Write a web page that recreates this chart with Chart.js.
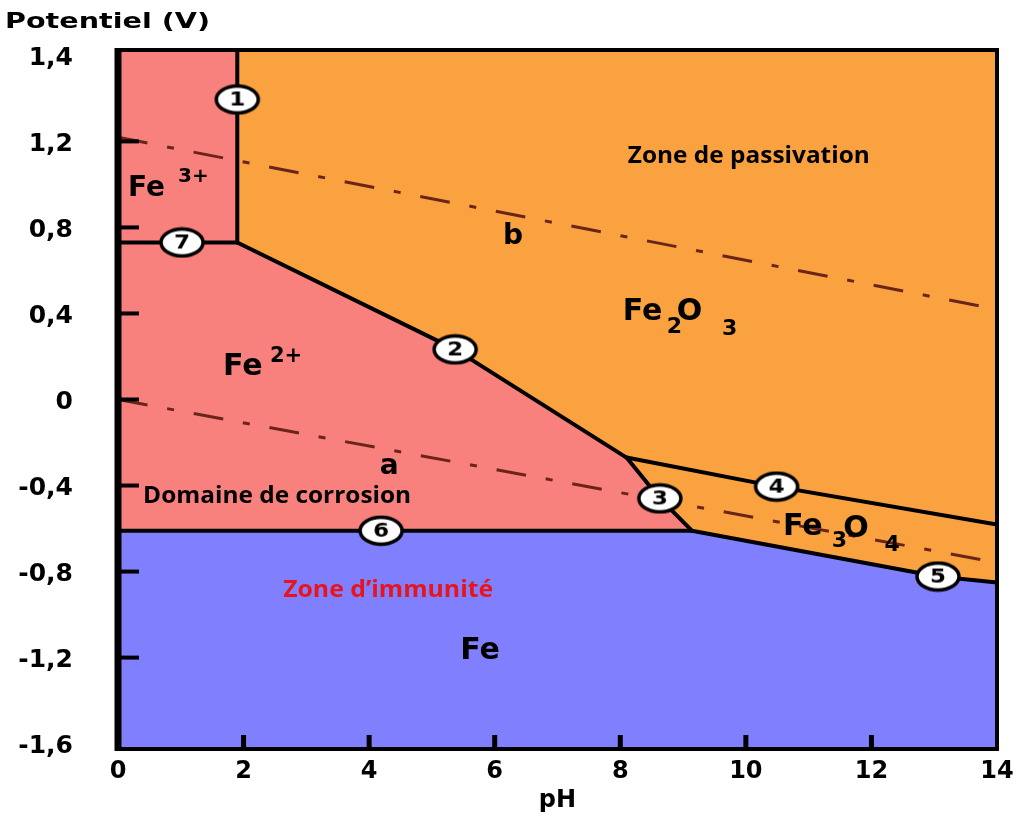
<!DOCTYPE html>
<html>
<head>
<meta charset="utf-8">
<script src="https://cdn.jsdelivr.net/npm/chart.js@4.4.1/dist/chart.umd.min.js"></script>
<style>
    html, body { margin: 0; padding: 0; background: #fff; }
    #wrap { width: 1018px; height: 819px; }
</style>
</head>
<body>
<div id="wrap"><canvas id="chart"></canvas></div>
<script>
// ticks
const phTicks = [0, 2, 4, 6, 8, 10, 12, 14];
const potentialTicks = [-1.6, -1.2, -0.8, -0.4, 0, 0.4, 0.8, 1.2, 1.6];
const potentialTickLabels = ["-1,6", "-1,2", "-0,8", "-0,4", "0", "0,4", "0,8", "1,2", "1,4"];

// domains: upper edge of Fe3+/Fe2+ and of Fe (pH, V)
const ionsTopPh = [0, 1.9, 1.9, 5.37, 8.1, 8.63, 9.14];
const ionsTopE = [1.625, 1.625, 0.73, 0.233, -0.27, -0.46, -0.61];
const metalTopPh = [0, 9.14, 13.06, 14];
const metalTopE = [-0.61, -0.61, -0.823, -0.851];

// numbered boundaries
const line1 = [[1.9, 0.73], [1.9, 1.625]];
const line2 = [[1.9, 0.73], [5.37, 0.233], [8.1, -0.27]];
const line3 = [[8.1, -0.27], [8.63, -0.46], [9.14, -0.61]];
const line4 = [[8.1, -0.27], [10.49, -0.405], [14, -0.581]];
const line5 = [[9.14, -0.61], [13.06, -0.823], [14, -0.851]];
const line6 = [[0, -0.61], [9.14, -0.61]];
const line7 = [[0, 0.73], [1.9, 0.73]];

// water lines a and b
const lineA = [[0, 0], [14, -0.758]];
const lineB = [[0, 1.219], [14, 0.419]];

// numbered markers
const markerPh = [1.9, 5.37, 8.63, 10.49, 13.06, 4.19, 1.02];
const markerE = [1.395, 0.233, -0.46, -0.405, -0.823, -0.61, 0.73];
const markerLabels = ["1", "2", "3", "4", "5", "6", "7"];

const ORANGE = "#f9a23f";
const PINK = "#f8807d";
const BLUE = "#8080fe";
const DASH = "#6a2418";
const DEJAVU = "'DejaVu Sans', sans-serif";
const SANS = "'Open Sans', Lato, sans-serif";

// text inside the diagram
const diagramLabels = [
    { text: "Fe", ph: 0.16, e: 0.981, size: 28 },
    { text: "3+", ph: 0.955, e: 1.037, size: 20 },
    { text: "Fe", ph: 1.672, e: 0.149, size: 30 },
    { text: "2+", ph: 2.42, e: 0.2, size: 21 },
    { text: "b", ph: 6.13, e: 0.758, size: 28 },
    { text: "a", ph: 4.17, e: -0.312, size: 28 },
    { text: "Fe", ph: 8.04, e: 0.405, size: 30 },
    { text: "2", ph: 8.74, e: 0.335, size: 22 },
    { text: "O", ph: 8.9, e: 0.405, size: 30 },
    { text: "3", ph: 9.62, e: 0.326, size: 22 },
    { text: "Fe", ph: 10.59, e: -0.595, size: 30 },
    { text: "3", ph: 11.37, e: -0.66, size: 22 },
    { text: "O", ph: 11.55, e: -0.605, size: 30 },
    { text: "4", ph: 12.21, e: -0.679, size: 22 },
    { text: "Fe", ph: 5.45, e: -1.172, size: 30 },
    { text: "Zone de passivation", ph: 8.12, e: 1.13, size: 24, family: SANS, width: 242 },
    { text: "Domaine de corrosion", ph: 0.4, e: -0.451, size: 24, family: SANS, width: 268 },
    { text: "Zone d’immunité", ph: 2.63, e: -0.888, size: 24, family: SANS, width: 210, color: "#e8141c" }
];

const toPoints = (ph, e) => ph.map((x, i) => ({ x, y: e[i] }));
const pairs = arr => arr.map(([x, y]) => ({ x, y }));

function makeMarker(num) {
    const c = document.createElement("canvas");
    c.width = 48; c.height = 32;
    const ctx = c.getContext("2d");
    ctx.beginPath();
    ctx.ellipse(24, 16, 21, 13.5, 0, 0, Math.PI * 2);
    ctx.fillStyle = "#fff";
    ctx.fill();
    ctx.lineWidth = 3.5;
    ctx.strokeStyle = "#000";
    ctx.stroke();
    ctx.fillStyle = "#000";
    ctx.font = "bold 20px " + DEJAVU;
    ctx.textAlign = "center";
    ctx.textBaseline = "middle";
    ctx.translate(24, 17);
    ctx.scale(1.15, 1);
    ctx.fillText(num, 0, 0);
    return c;
}

const area = (data, color, order) => ({
    data, order, showLine: true, fill: "start", backgroundColor: color,
    borderWidth: 0, pointRadius: 0, tension: 0
});
const boundary = data => ({
    data: pairs(data), order: 3, showLine: true, fill: false,
    borderColor: "#000", borderWidth: 4, pointRadius: 0, borderCapStyle: "round", borderJoinStyle: "round"
});
const water = data => ({
    data: pairs(data), order: 5, showLine: true, fill: false,
    borderColor: DASH, borderWidth: 3, borderDash: [30, 20, 7, 20], pointRadius: 0
});

const frame = {
    id: "frame",
    afterDatasetsDraw(chart) {
        const { ctx, chartArea: a, scales: { x, y } } = chart;
        ctx.save();
        ctx.strokeStyle = "#000";
        ctx.lineCap = "butt";
        // inner tick marks
        ctx.lineWidth = 4;
        potentialTicks.slice(1, -1).forEach(v => {
            const py = y.getPixelForValue(v);
            ctx.beginPath(); ctx.moveTo(a.left, py); ctx.lineTo(a.left + 21, py); ctx.stroke();
        });
        ctx.lineWidth = 5;
        phTicks.slice(1, -1).forEach(v => {
            const px = x.getPixelForValue(v);
            ctx.beginPath(); ctx.moveTo(px, a.bottom); ctx.lineTo(px, a.bottom - 14); ctx.stroke();
        });
        // box
        ctx.lineWidth = 4;
        ctx.strokeRect(a.left, a.top, a.right - a.left, a.bottom - a.top);
        ctx.lineWidth = 7;
        ctx.beginPath(); ctx.moveTo(a.left, a.top - 2); ctx.lineTo(a.left, a.bottom + 2); ctx.stroke();

        // labels
        diagramLabels.forEach(l => {
            ctx.save();
            ctx.font = `bold ${l.size}px ${l.family || DEJAVU}`;
            ctx.fillStyle = l.color || "#000";
            ctx.textBaseline = "middle";
            ctx.textAlign = "left";
            const sx = l.width ? l.width / ctx.measureText(l.text).width : 1;
            ctx.translate(x.getPixelForValue(l.ph), y.getPixelForValue(l.e));
            ctx.scale(sx, 1);
            ctx.fillText(l.text, 0, 0);
            ctx.restore();
        });

        // axis title
        ctx.save();
        ctx.font = "bold 22px " + DEJAVU;
        ctx.fillStyle = "#000";
        ctx.textBaseline = "middle";
        const t = "Potentiel (V)";
        ctx.translate(a.left - 113, a.top - 28);
        ctx.scale(205 / ctx.measureText(t).width, 1);
        ctx.fillText(t, 0, 0);
        ctx.restore();
        ctx.restore();
    }
};

new Chart(document.getElementById("chart"), {
    type: "scatter",
    data: {
        datasets: [
            area([{ x: 0, y: 1.625 }, { x: 14, y: 1.625 }], ORANGE, 10),
            area(toPoints(ionsTopPh, ionsTopE), PINK, 9),
            area(toPoints(metalTopPh, metalTopE), BLUE, 8),
            water(lineA),
            water(lineB),
            boundary(line1), boundary(line2), boundary(line3), boundary(line4),
            boundary(line5), boundary(line6), boundary(line7),
            {
                data: toPoints(markerPh, markerE), order: 1,
                pointStyle: markerLabels.map(makeMarker), pointRadius: 16
            }
        ]
    },
    options: {
        responsive: true,
        maintainAspectRatio: false,
        animation: false,
        layout: { padding: { top: 50, right: 21, left: 0, bottom: 0 } },
        plugins: { legend: { display: false }, tooltip: { enabled: false } },
        scales: {
            x: {
                type: "linear", min: 0, max: 14,
                afterBuildTicks: s => { s.ticks = phTicks.map(v => ({ value: v })); },
                afterFit: s => { s.height = 70; s.paddingLeft = 0; s.paddingRight = 0; },
                grid: { display: false, drawTicks: false },
                border: { display: false },
                ticks: { color: "#000", padding: 8, font: { family: DEJAVU, size: 24, weight: "bold" } },
                title: { display: true, text: "pH", color: "#000", padding: { top: 0, bottom: 4 }, font: { family: DEJAVU, size: 24, weight: "bold" } }
            },
            y: {
                type: "linear", min: -1.625, max: 1.625,
                afterBuildTicks: s => { s.ticks = potentialTicks.map(v => ({ value: v })); },
                afterFit: s => { s.width = 118; s.paddingTop = 0; s.paddingBottom = 0; },
                grid: { display: false, drawTicks: false },
                border: { display: false },
                ticks: {
                    color: "#000", padding: 45, labelOffset: 3,
                    font: { family: DEJAVU, size: 25, weight: "bold" },
                    callback: (v, i) => potentialTickLabels[i]
                }
            }
        }
    },
    plugins: [frame]
});
</script>
</body>
</html>
